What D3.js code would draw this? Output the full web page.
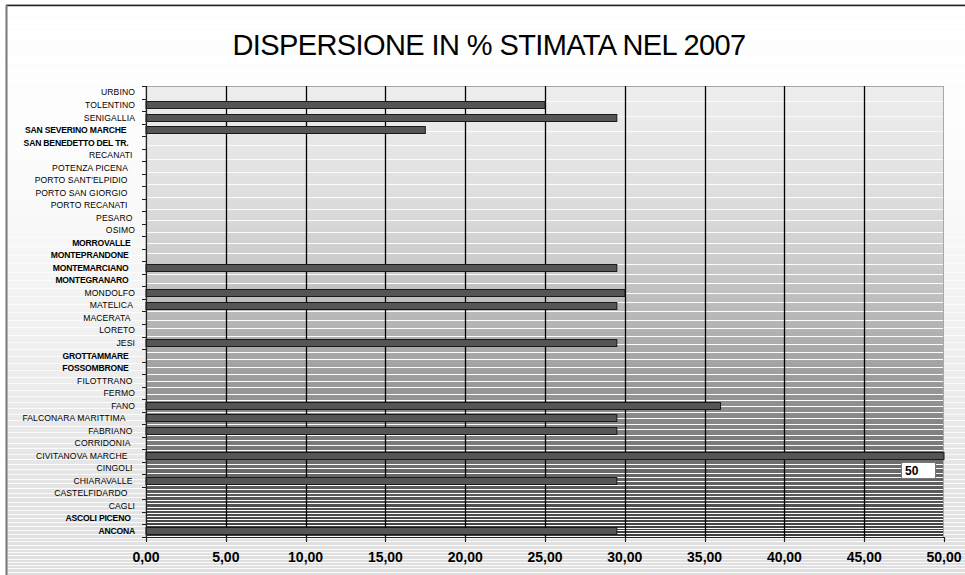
<!DOCTYPE html>
<html><head><meta charset="utf-8">
<script src="https://cdn.jsdelivr.net/npm/d3@7"></script>
<style>
html,body{margin:0;padding:0;background:#fff;}
svg{display:block;}
text{font-family:"Liberation Sans",Arial,sans-serif;}
</style></head>
<body>
<script>
// ---- data ----
const title = "DISPERSIONE IN % STIMATA NEL 2007";
const categories = ["URBINO","TOLENTINO","SENIGALLIA","SAN SEVERINO MARCHE    ","SAN BENEDETTO DEL TR.   ","RECANATI ","POTENZA PICENA   ","PORTO SANT'ELPIDIO   ","PORTO SAN GIORGIO   ","PORTO RECANATI   ","PESARO ","OSIMO","MORROVALLE  ","MONTEPRANDONE   ","MONTEMARCIANO   ","MONTEGRANARO   ","MONDOLFO","MATELICA ","MACERATA  ","LORETO","JESI","GROTTAMMARE   ","FOSSOMBRONE   ","FILOTTRANO ","FERMO","FANO","FALCONARA MARITTIMA    ","FABRIANO ","CORRIDONIA  ","CIVITANOVA MARCHE   ","CINGOLI ","CHIARAVALLE ","CASTELFIDARDO   ","CAGLI","ASCOLI PICENO  ","ANCONA"];
const values = [0,25,29.5,17.5,0,0,0,0,0,0,0,0,0,0,29.5,0,30,29.5,0,0,29.5,0,0,0,0,36,29.5,29.5,0,50,0,29.5,0,0,0,29.5];
const xTicks = [0,5,10,15,20,25,30,35,40,45,50];
const xTickLabels = ["0,00","5,00","10,00","15,00","20,00","25,00","30,00","35,00","40,00","45,00","50,00"];
const dataLabelCategory = "CIVITANOVA MARCHE   ";
const dataLabelText = "50";

// ---- style ----
const boldNames = new Set(["SAN SEVERINO MARCHE","SAN BENEDETTO DEL TR.","MORROVALLE","MONTEPRANDONE","MONTEMARCIANO","MONTEGRANARO","GROTTAMMARE","FOSSOMBRONE","ASCOLI PICENO","ANCONA"]);
const W = 965, H = 575;
const plot = {left:146, right:944, top:86, bottom:537};

const svg = d3.select("body").append("svg").attr("width",W).attr("height",H);

// striped background helper (decorative gradient, rendered as 1px rows)
function stripes(g, x0, x1, y0, y1, baseColors, spTop, spBot, gamma) {
  const h = y1 - y0, rows = [];
  const base = d3.interpolateRgbBasis(baseColors);
  let phase = 0;
  for (let i = 0; i < h; i++) {
    const t = i / h;
    const sp = spTop - (spTop - spBot) * Math.pow(t, gamma);
    const np = phase + 1 / sp;
    const white = Math.floor(np) > Math.floor(phase);
    phase = np;
    rows.push({y: y0 + i, c: white ? "#fbfbfb" : base(t)});
  }
  g.selectAll(null).data(rows).enter().append("rect")
    .attr("x", x0).attr("width", x1 - x0).attr("y", d => d.y).attr("height", 1)
    .attr("fill", d => d.c).attr("shape-rendering","crispEdges");
}

// outer background
const bg = svg.append("g");
stripes(bg, 7, W, 6, H, ["#ffffff","#fdfdfd","#f4f4f4","#e8e8e8","#dedede"], 12, 3, 1.2);
// frame
svg.append("line").attr("x1",6).attr("x2",W).attr("y1",4.5).attr("y2",4.5).attr("stroke","#cfcfcf").attr("stroke-width",1);
svg.append("line").attr("x1",6).attr("x2",W).attr("y1",5.5).attr("y2",5.5).attr("stroke","#222").attr("stroke-width",1.5);
svg.append("line").attr("x1",6.5).attr("x2",6.5).attr("y1",5).attr("y2",H).attr("stroke","#777").attr("stroke-width",2);

// title
svg.append("text").attr("x",489).attr("y",55).attr("text-anchor","middle")
  .attr("font-size",29).attr("letter-spacing",-0.6).attr("fill","#000").text(title);

// scales
const x = d3.scaleLinear().domain([0,50]).range([plot.left, plot.right]);
const y = d3.scaleBand().domain(categories).range([plot.top, plot.bottom]).paddingInner(0.44).paddingOuter(0.22);

// plot background
const pg = svg.append("g");
stripes(pg, plot.left, plot.right, plot.top, plot.bottom, ["#ededed","#e4e4e4","#cbcbcb","#a8a8a8","#7a7a7a","#3c3c3c"], 16, 2.5, 0.9);
svg.append("rect").attr("x",plot.left).attr("y",plot.top+0.5).attr("width",plot.right-plot.left-0.5).attr("height",plot.bottom-plot.top)
  .attr("fill","none").attr("stroke","#a8a8a8").attr("stroke-width",1);

// vertical gridlines
svg.append("g").selectAll("line").data(xTicks.filter(v => v > 0 && v < 50)).enter().append("line")
  .attr("x1", d => Math.round(x(d)) + 0.5).attr("x2", d => Math.round(x(d)) + 0.5)
  .attr("y1", plot.top).attr("y2", plot.bottom)
  .attr("stroke","#000").attr("stroke-width",1.3);

// bars
svg.append("g").selectAll("rect").data(categories.map((c,i)=>({c, v: values[i]})).filter(d => d.v > 0))
  .enter().append("rect")
  .attr("x", x(0)).attr("y", d => Math.round(y(d.c)) + 0.5)
  .attr("width", d => x(d.v) - x(0)).attr("height", Math.round(y.bandwidth()))
  .attr("fill","#555").attr("stroke","#1a1a1a").attr("stroke-width",1);

// y axis
const step = y.step();
const bounds = categories.map(c => y(c) - step * y.paddingInner() / 2).concat([plot.bottom]);
svg.append("g").selectAll("line").data(bounds).enter().append("line")
  .attr("x1", plot.left - 4).attr("x2", plot.left).attr("y1", d => Math.round(d) + 0.5).attr("y2", d => Math.round(d) + 0.5)
  .attr("stroke","#222").attr("stroke-width",1);
svg.append("line").attr("x1",plot.left+0.5).attr("x2",plot.left+0.5).attr("y1",plot.top).attr("y2",plot.bottom)
  .attr("stroke","#222").attr("stroke-width",1.2);

svg.append("g").selectAll("text").data(categories).enter().append("text")
  .attr("x", 135).attr("y", d => y(d) + y.bandwidth()/2 + 3.2)
  .attr("text-anchor","end").attr("font-size",8.6)
  .attr("font-weight", d => boldNames.has(d.trim()) ? "bold" : "normal")
  .attr("letter-spacing", d => boldNames.has(d.trim()) ? -0.2 : 0.1)
  .style("white-space","pre").attr("fill","#000").text(d => d);

// x axis
svg.append("line").attr("x1",plot.left).attr("x2",plot.right).attr("y1",plot.bottom+0.5).attr("y2",plot.bottom+0.5)
  .attr("stroke","#222").attr("stroke-width",1.2);
svg.append("g").selectAll("line").data(xTicks).enter().append("line")
  .attr("x1", d => Math.round(x(d)) + 0.5).attr("x2", d => Math.round(x(d)) + 0.5)
  .attr("y1", plot.bottom).attr("y2", plot.bottom + 5).attr("stroke","#222").attr("stroke-width",1.2);
svg.append("g").selectAll("text").data(xTicks).enter().append("text")
  .attr("x", d => x(d)).attr("y", 562).attr("text-anchor","middle")
  .attr("font-size",14).attr("font-weight","bold").attr("fill","#000")
  .text((d,i) => xTickLabels[i]);

// data label
const lx = x(50) - 43, ly = y(dataLabelCategory) + y.bandwidth() + 3;
svg.append("rect").attr("x", Math.round(lx)+0.5).attr("y", Math.round(ly)+0.5).attr("width",34).attr("height",16)
  .attr("fill","#fff").attr("stroke","#777").attr("stroke-width",1);
svg.append("text").attr("x", lx + 4).attr("y", ly + 12.5).attr("font-family","'Liberation Serif','Times New Roman',serif")
  .attr("font-weight","bold").attr("font-size",12).attr("fill","#000").text(dataLabelText);
</script>
</body></html>
